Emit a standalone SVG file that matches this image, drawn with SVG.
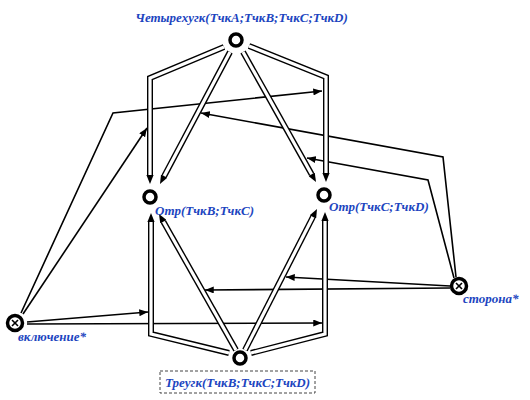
<svg xmlns="http://www.w3.org/2000/svg" width="530" height="400" viewBox="0 0 530 400">
<style>
.lbl{font-family:"Liberation Serif","DejaVu Serif",serif;font-weight:bold;font-style:italic;font-size:13px;fill:#1c45c0}
.sgl{fill:none;stroke:#000;stroke-width:1.6;marker-end:url(#ah)}
.dblo{fill:none;stroke:#000;stroke-width:6;stroke-linejoin:miter;marker-end:url(#dh)}
.dbli{fill:none;stroke:#fff;stroke-width:3.2;stroke-linejoin:miter}
.node{fill:#fff;stroke:#000;stroke-width:3.5}
.xl{stroke:#000;stroke-width:1.6}
</style>
<defs>
<marker id="ah" viewBox="0 0 10 8" refX="10" refY="4" markerWidth="9" markerHeight="7" orient="auto" markerUnits="userSpaceOnUse">
<path d="M0,0 L10,4 L0,8 z" fill="#000"/>
</marker>
<marker id="dh" viewBox="0 0 10 8" refX="0" refY="4" markerWidth="9" markerHeight="7.5" orient="auto" markerUnits="userSpaceOnUse">
<path d="M0,0 L10,4 L0,8 z" fill="#000"/>
</marker>
</defs>
<rect width="530" height="400" fill="#fff"/>
<g id="connectors">
<g id="single">
<path class="sgl" d="M21,313 L113,113 L322,91"/>
<path class="sgl" d="M23,314 L147,128"/>
<path class="sgl" d="M27,322 L148,312"/>
<path class="sgl" d="M27,324 L322,323"/>
<path class="sgl" d="M456,277 L443,157 L201,113"/>
<path class="sgl" d="M454,278 L428,180 L307,158"/>
<path class="sgl" d="M450,286 L286,277"/>
<path class="sgl" d="M450,288 L205,290"/>
</g>
<g id="double">
<path class="dblo" d="M224,47 L150,78 L150,175"/>
<path class="dbli" d="M224,47 L150,78 L150,175"/>
<path class="dblo" d="M230,52 L164.2,176.1"/>
<path class="dbli" d="M230,52 L164.2,176.1"/>
<path class="dblo" d="M243,52 L311.6,174.2"/>
<path class="dbli" d="M243,52 L311.6,174.2"/>
<path class="dblo" d="M249,46 L326,77 L326,173"/>
<path class="dbli" d="M249,46 L326,77 L326,173"/>
<path class="dblo" d="M229,353 L151,334 L151,222"/>
<path class="dbli" d="M229,353 L151,334 L151,222"/>
<path class="dblo" d="M236,350 L163.4,221.8"/>
<path class="dbli" d="M236,350 L163.4,221.8"/>
<path class="dblo" d="M245,350 L312.9,217"/>
<path class="dbli" d="M245,350 L312.9,217"/>
<path class="dblo" d="M251,353 L325,334 L325,221"/>
<path class="dbli" d="M251,353 L325,334 L325,221"/>
</g>
</g>
<g id="n-quad">
<circle class="node" cx="236" cy="40" r="6"/>
<text class="lbl" x="241.5" y="22" text-anchor="middle">Четырехугк(ТчкA;ТчкB;ТчкC;ТчкD)</text>
</g>
<g id="n-seg-bc">
<circle class="node" cx="150" cy="197" r="6"/>
<text class="lbl" x="155" y="215">Отр(ТчкB;ТчкC)</text>
</g>
<g id="n-seg-cd">
<circle class="node" cx="324" cy="195" r="6"/>
<text class="lbl" x="329" y="211">Отр(ТчкC;ТчкD)</text>
</g>
<g id="n-tri">
<circle class="node" cx="240" cy="358" r="6"/>
<rect x="160" y="371" width="155" height="22" fill="#fff" stroke="#444" stroke-width="1" stroke-dasharray="3,2"/>
<text class="lbl" x="237.5" y="387" text-anchor="middle">Треугк(ТчкB;ТчкC;ТчкD)</text>
</g>
<g id="n-incl">
<circle class="node" cx="15" cy="323" r="7.5"/>
<line class="xl" x1="12" y1="320" x2="18" y2="326"/>
<line class="xl" x1="18" y1="320" x2="12" y2="326"/>
<text class="lbl" x="18" y="341">включение*</text>
</g>
<g id="n-side">
<circle class="node" cx="459" cy="286" r="7.5"/>
<line class="xl" x1="456" y1="283" x2="462" y2="289"/>
<line class="xl" x1="462" y1="283" x2="456" y2="289"/>
<text class="lbl" x="463" y="303">сторона*</text>
</g>
</svg>
